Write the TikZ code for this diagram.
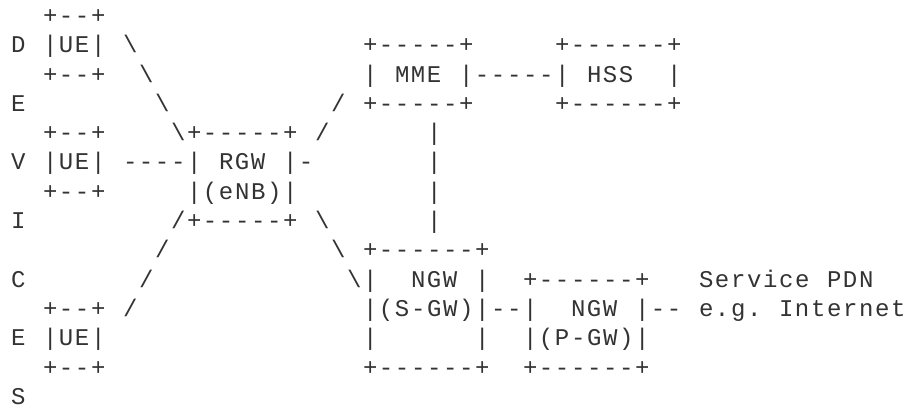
\documentclass[tikz,border=0pt]{standalone}
\usepackage{fontspec}
\usepackage{tikz}
\usepackage{xcolor}
\setmonofont{Liberation Mono}[LetterSpace=6.7]
\definecolor{asciigray}{HTML}{333333}
% one piece of the text figure, placed on the character grid
\newcommand{\ascat}[4]{\node[ascii] (#1) at ({10.8+16*(#2)},{-23.5-29.3*(#3)}) {#4};}

\begin{document}
\begin{tikzpicture}[
    x=1pt,y=1pt,
    ascii/.style={font=\ttfamily\fontsize{24}{24}\selectfont,text=asciigray,
      inner sep=0pt,anchor=base west}
  ]
  \useasboundingbox (0,0) rectangle (905,-409);
  % DEVICES down the left side
  \foreach \l/\r in {D/1,E/3,V/5,I/7,C/9,E/11,S/13} {\ascat{side\r}{0}{\r}{\l}}
  % the three UE boxes
  \foreach \r in {0,4,10} {
    \ascat{ueTop\r}{2}{\r}{+--+}
    \ascat{ue\r}{2}{\r+1}{|UE|}
    \ascat{ueBot\r}{2}{\r+2}{+--+}
  }
  % slanted links to the RGW
  \foreach \r/\c in {1/7,2/8,3/9,4/10} {\ascat{ul\r}{\c}{\r}{\textbackslash}}
  \foreach \r/\c in {7/10,8/9,9/8,10/7} {\ascat{ll\r}{\c}{\r}{/}}
  \foreach \r/\c in {3/20,4/19} {\ascat{ur\r}{\c}{\r}{/}}
  \foreach \r/\c in {7/19,8/20,9/21} {\ascat{lr\r}{\c}{\r}{\textbackslash}}
  \ascat{ueLink}{7}{5}{----}
  % RGW (eNB)
  \ascat{rgwTop}{11}{4}{+-----+}
  \ascat{rgwL}{11}{5}{|}
  \ascat{rgw}{13}{5}{RGW}
  \ascat{rgwR}{17}{5}{|-}
  \ascat{rgwMid}{11}{6}{|(eNB)|}
  \ascat{rgwBot}{11}{7}{+-----+}
  % MME and HSS
  \ascat{mmeTop}{22}{1}{+-----+}
  \ascat{hssTop}{34}{1}{+------+}
  \ascat{mmeL}{22}{2}{|}
  \ascat{mme}{24}{2}{MME}
  \ascat{mmeHss}{28}{2}{|-----|}
  \ascat{hss}{36}{2}{HSS}
  \ascat{hssR}{41}{2}{|}
  \ascat{mmeBot}{22}{3}{+-----+}
  \ascat{hssBot}{34}{3}{+------+}
  \foreach \r in {4,...,7} {\ascat{mmeLine\r}{26}{\r}{|}}
  % NGW (S-GW) and NGW (P-GW)
  \ascat{sgwTop}{22}{8}{+------+}
  \ascat{sgwL}{22}{9}{|}
  \ascat{sgw}{25}{9}{NGW}
  \ascat{sgwR}{29}{9}{|}
  \ascat{pgwTop}{32}{9}{+------+}
  \ascat{sgwMid}{22}{10}{|(S-GW)|--|}
  \ascat{pgw}{35}{10}{NGW}
  \ascat{pgwR}{39}{10}{|--}
  \ascat{sgwL2}{22}{11}{|}
  \ascat{sgwR2}{29}{11}{|}
  \ascat{pgwMid}{32}{11}{|(P-GW)|}
  \ascat{sgwBot}{22}{12}{+------+}
  \ascat{pgwBot}{32}{12}{+------+}
  % service PDN
  \ascat{pdnA}{43}{9}{Service}
  \ascat{pdnB}{51}{9}{PDN}
  \ascat{inetA}{43}{10}{e.g.}
  \ascat{inetB}{48}{10}{Internet}
\end{tikzpicture}
\end{document}
